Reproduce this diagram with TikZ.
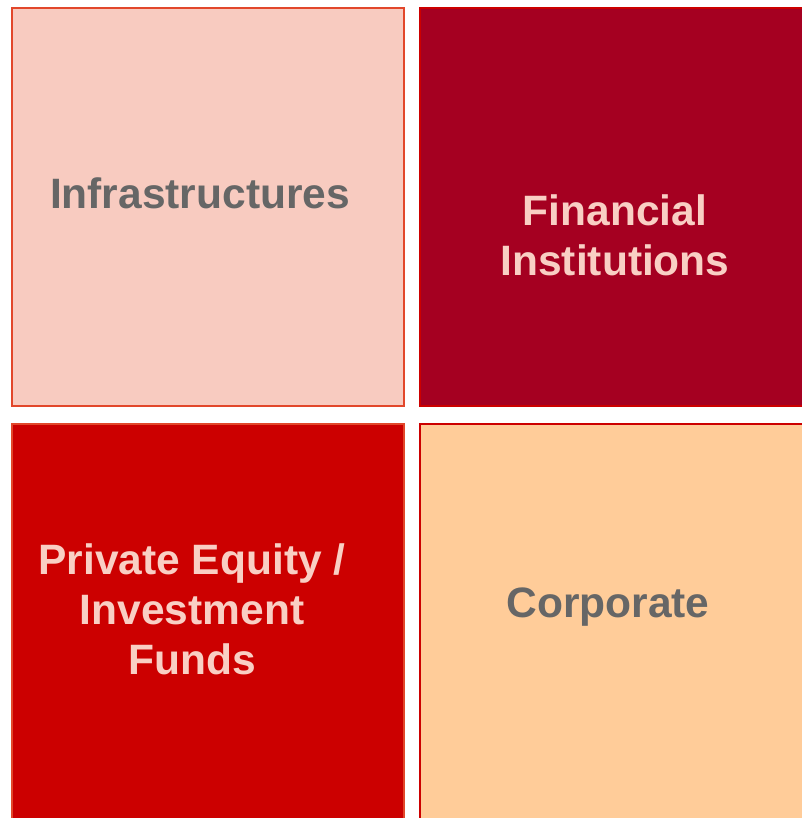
\documentclass[tikz,border=0pt]{standalone}
\usepackage{fontspec}
\setmainfont{Liberation Sans}

\definecolor{rosaClaro}{HTML}{F8CBC0}
\definecolor{bordaLaranja}{HTML}{E2472B}
\definecolor{bordo}{HTML}{A50021}
\definecolor{vermelho}{HTML}{CC0000}
\definecolor{pessego}{HTML}{FFCC99}
\definecolor{cinzaTexto}{HTML}{666666}
\definecolor{rosaTexto}{HTML}{F9CFC4}

\tikzset{
    quadro/.style={rectangle, anchor=north west, inner sep=0pt, outer sep=0pt,
        line width=2pt, minimum width=392pt, minimum height=398pt},
    rotulo/.style={font=\bfseries\fontsize{42.5}{50}\selectfont, align=center, anchor=base}
}

\begin{document}
\begin{tikzpicture}[x=1pt, y=-1pt]
    \useasboundingbox (0,0) rectangle (801,818);

    %quadros
    \foreach \x/\y/\fundo/\borda/\nome in {
        12/8/rosaClaro/bordaLaranja/infra, 420/8/bordo/vermelho/financ,
        12/424/vermelho/bordaLaranja/fundos, 420/424/pessego/vermelho/corp
    } {
        \node[quadro, fill=\fundo, draw=\borda] (\nome) at (\x,\y) {};
    }

    %textos (base = ultima linha)
    \node[rotulo, text=cinzaTexto] (tInfra) at (200,209) {Infrastructures};
    \node[rotulo, text=rosaTexto] (tFinanc) at (615,275) {Financial\\Institutions};
    \node[rotulo, text=rosaTexto] (tFundos) at (192,674) {Private Equity /\\Investment\\Funds};
    \node[rotulo, text=cinzaTexto] (tCorp) at (608,617) {Corporate};
\end{tikzpicture}
\end{document}
